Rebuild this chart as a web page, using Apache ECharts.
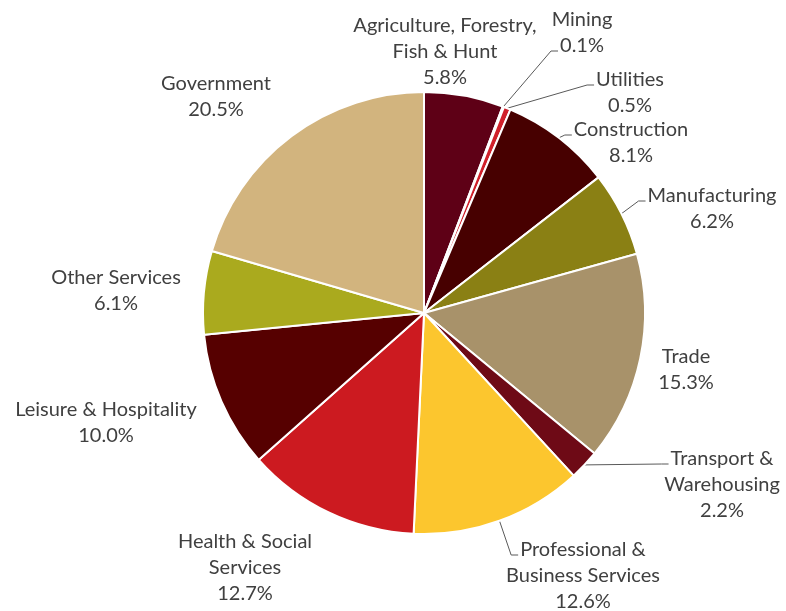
<!DOCTYPE html>
<html><head><meta charset="utf-8">
<script src="https://cdn.jsdelivr.net/npm/echarts@6/dist/echarts.min.js"></script>
<style>html,body{margin:0;padding:0;background:#fff}#chart{width:786px;height:611px}</style>
</head><body><div id="chart"></div>
<script>
// ---- data ----
const categories = ['Agriculture, Forestry,\nFish & Hunt', 'Mining', 'Utilities', 'Construction', 'Manufacturing', 'Trade',
  'Transport &\nWarehousing', 'Professional &\nBusiness Services', 'Health & Social\nServices', 'Leisure & Hospitality',
  'Other Services', 'Government'];
const shares = [5.8, 0.1, 0.5, 8.1, 6.2, 15.3, 2.2, 12.6, 12.7, 10.0, 6.1, 20.5];

// ---- styles / layout ----
const colors = ['#5e0016', '#eeeeee', '#d0202a', '#470000', '#8a8014', '#a8926a',
  '#6e0a16', '#fcc62e', '#cc1a20', '#560000', '#aaaa1e', '#d2b47e'];
const labelPos = [[445, 52], [582, 33], [630, 93], [631, 143], [712, 209], [686, 370],
  [722, 485], [583, 576], [245, 568], [106, 423], [116, 291], [216, 97]];
const leaderLineIdx = [null, 1, 0, 0, 0, null, 0, 0, null, null, null, null];
const FONT = 'Lato', FS = 20, LH = 26;

const ctx = document.createElement('canvas').getContext('2d');
ctx.font = FS + 'px ' + FONT;
function labelText(i) { return categories[i] + '\n' + shares[i].toFixed(1) + '%'; }

const chart = echarts.init(document.getElementById('chart'));
chart.setOption({
  animation: false,
  series: [{
    type: 'pie',
    center: [424, 313],
    radius: 221,
    startAngle: 90,
    clockwise: true,
    avoidLabelOverlap: false,
    emphasis: { disabled: true },
    itemStyle: { borderColor: '#ffffff', borderWidth: 2 },
    label: {
      show: true, position: 'outside',
      fontFamily: FONT, fontSize: FS, lineHeight: LH, color: '#404040',
      formatter: p => labelText(p.dataIndex)
    },
    labelLine: { show: true, lineStyle: { color: '#595959', width: 1 } },
    labelLayout: function (params) {
      const i = params.dataIndex;
      const p = labelPos[i];
      const out = { x: p[0], y: p[1], align: 'center', verticalAlign: 'middle' };
      const li = leaderLineIdx[i];
      if (li != null && params.labelLinePoints) {
        const lines = labelText(i).split('\n');
        const w = ctx.measureText(lines[li]).width;
        const top = p[1] - params.labelRect.height / 2;
        const ly = top + LH * li + LH / 2 + 5;
        const lx = p[0] - w / 2 - 2;
        const start = params.labelLinePoints[0];
        out.labelLinePoints = [start, [lx - 7, ly], [lx, ly]];
      }
      return out;
    },
    data: categories.map((c, i) => ({
      name: c, value: shares[i],
      itemStyle: { color: colors[i] },
      labelLine: { show: leaderLineIdx[i] != null }
    }))
  }]
});
</script></body></html>
